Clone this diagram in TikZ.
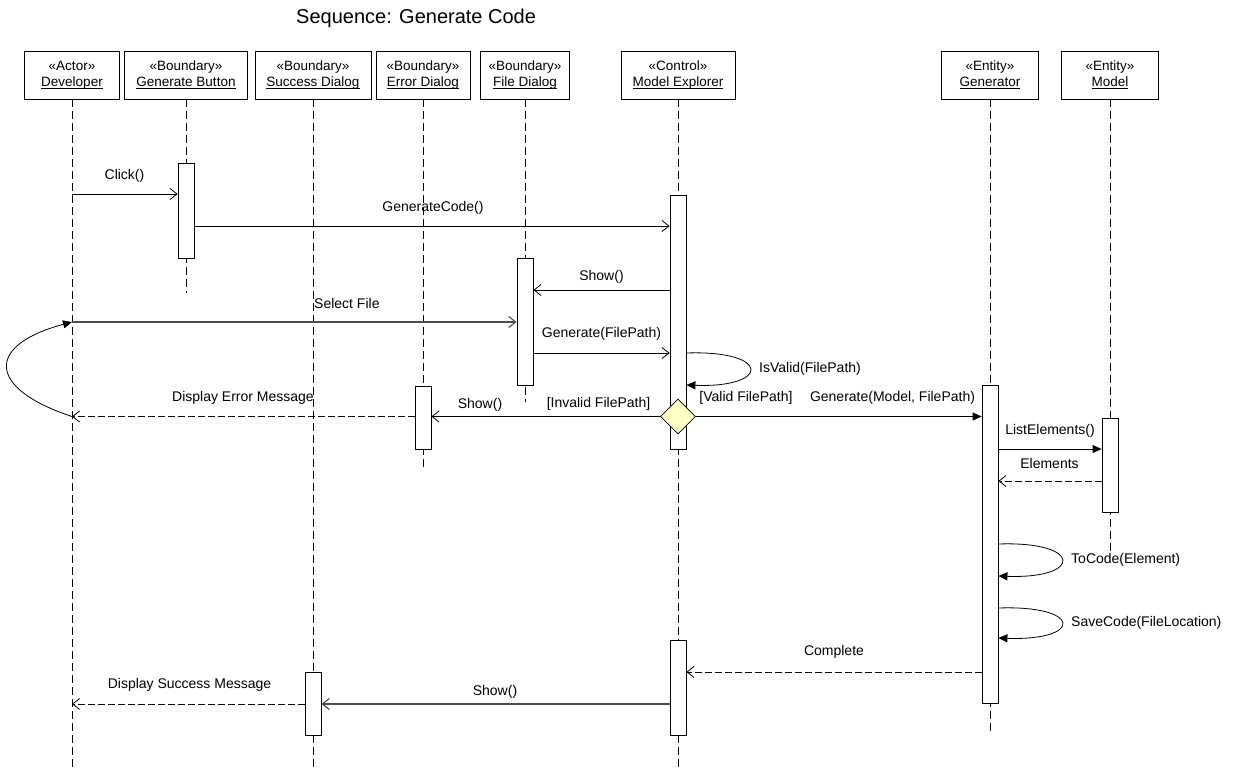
\documentclass[tikz,border=0pt]{standalone}
\usepackage{fontspec}
\setmainfont{Liberation Sans}
\usetikzlibrary{arrows.meta,shapes.geometric}

% underlined object name with the rule close to the baseline
\newcommand{\objname}[1]{\underline{\smash{#1}}}

\definecolor{decisionfill}{RGB}{255,255,196}

\begin{document}
\begin{tikzpicture}[x=1pt,y=-1pt,
  hdr/.style={draw, line width=0.8pt, fill=white, inner sep=0pt, align=center,
              minimum height=48pt, font=\fontsize{13.5}{16}\selectfont},
  life/.style={line width=0.8pt, dash pattern=on 8pt off 4pt},
  act/.style={draw, fill=white, line width=0.8pt, minimum width=16pt, inner sep=0pt},
  call/.style={line width=0.8pt, -{Straight Barb[length=7pt,width=11pt]}},
  softcall/.style={call, line width=1.1pt, black!70},
  ret/.style={call, dash pattern=on 7pt off 3pt},
  sync/.style={line width=0.8pt, -{Triangle[length=9pt,width=8pt]}},
  lbl/.style={font=\fontsize{14}{16}\selectfont, inner sep=0pt},
  decision/.style={diamond, draw, line width=0.8pt, fill=decisionfill, inner sep=0pt,
                   minimum width=35pt, minimum height=35pt},
]
\useasboundingbox (0,0) rectangle (1234,769);

% title
\node[anchor=base west, inner sep=0pt, font=\fontsize{20}{22}\selectfont] (title) at (296,23) {Sequence: Generate Code};

% object headers
\node[hdr, minimum width=95pt]  (dev) at (72,75)   {«Actor»\\\objname{Developer}};
\node[hdr, minimum width=123pt] (gb)  at (186,75)  {«Boundary»\\\objname{Generate Button}};
\node[hdr, minimum width=116pt] (sd)  at (313,75)  {«Boundary»\\\objname{Success Dialog}};
\node[hdr, minimum width=94pt]  (ed)  at (423,75)  {«Boundary»\\\objname{Error Dialog}};
\node[hdr, minimum width=89pt]  (fd)  at (525,75)  {«Boundary»\\\objname{File Dialog}};
\node[hdr, minimum width=114pt] (me)  at (678,75)  {«Control»\\\objname{Model Explorer}};
\node[hdr, minimum width=97pt]  (gen) at (990,75)  {«Entity»\\\objname{Generator}};
\node[hdr, minimum width=97pt]  (md)  at (1110,75) {«Entity»\\\objname{Model}};

% lifeline ends
\coordinate (devEnd) at (72,769);
\coordinate (gbEnd)  at (186,293);
\coordinate (sdEnd)  at (313,769);
\coordinate (edEnd)  at (423,467);
\coordinate (fdEnd)  at (525,402);
\coordinate (meEnd)  at (678,769);
\coordinate (genEnd) at (990,732);
\coordinate (mdEnd)  at (1110,552);

% lifelines
\draw[life] (dev) -- (devEnd);
\draw[life] (gb)  -- (gbEnd);
\draw[life] (sd)  -- (sdEnd);
\draw[life] (ed)  -- (edEnd);
\draw[life] (fd)  -- (fdEnd);
\draw[life] (me)  -- (meEnd);
\draw[life] (gen) -- (genEnd);
\draw[life] (md)  -- (mdEnd);

% activation bars
\node[act, minimum height=95pt]  (gbA)  at (186,210.5) {};
\node[act, minimum height=254pt] (meA)  at (678,322)   {};
\node[act, minimum height=127pt] (fdA)  at (525,321.5) {};
\node[act, minimum height=63pt]  (edA)  at (423,417.5) {};
\node[act, minimum height=318pt] (genA) at (990,544)   {};
\node[act, minimum height=94pt]  (mdA)  at (1110,465)  {};
\node[act, minimum height=95pt]  (meB)  at (678,687.5) {};
\node[act, minimum height=63pt]  (sdA)  at (313,703.5) {};

% decision on the model explorer
\node[decision] (dec) at (678,416.5) {};

% message levels
\coordinate (yClick)  at (0,194);
\coordinate (yGen)    at (0,226);
\coordinate (yShow)   at (0,290);
\coordinate (ySel)    at (0,322);
\coordinate (yGenFP)  at (0,353);
\coordinate (yValA)   at (0,353);
\coordinate (yValB)   at (0,385);
\coordinate (yDec)    at (0,416.5);
\coordinate (yList)   at (0,449);
\coordinate (yElem)   at (0,481);
\coordinate (yCodeA)  at (0,544);
\coordinate (yCodeB)  at (0,576);
\coordinate (ySaveA)  at (0,608);
\coordinate (ySaveB)  at (0,638);
\coordinate (yDone)   at (0,672);
\coordinate (yShowOk) at (0,704);

% messages
\draw[call] (dev |- yClick) -- (gbA.west |- yClick);
\node[lbl] at (124.5,176) {Click()};

\draw[call] (gbA.east |- yGen) -- (meA.west |- yGen);
\node[lbl] at (433,208) {GenerateCode()};

\draw[call] (meA.west |- yShow) -- (fdA.east |- yShow);
\node[lbl] at (601.5,277) {Show()};

\draw[softcall] (dev |- ySel) -- (fdA.west |- ySel);
\node[lbl, anchor=west] at (314,303) {Select File};

\draw[call] (fdA.east |- yGenFP) -- (meA.west |- yGenFP);
\node[lbl] at (601.5,334) {Generate(FilePath)};

\draw[sync] (meA.east |- yValA) .. controls (771,350) and (771,388) .. (meA.east |- yValB);
\node[lbl, anchor=west] at (759,369) {IsValid(FilePath)};

\draw[call] (dec.west) -- (edA.east |- yDec);
\node[lbl] at (480,405) {Show()};
\node[lbl] at (598.5,404) {[Invalid FilePath]};

\draw[ret] (edA.west |- yDec) -- (dev |- yDec);
\node[lbl] at (243,398) {Display Error Message};

\draw[sync] (dev |- yDec) .. controls (-14,388) and (-14,345) .. (dev |- ySel);

\draw[sync] (dec.east) -- (genA.west |- yDec);
\node[lbl] at (746,398) {[Valid FilePath]};
\node[lbl] at (892.5,398) {Generate(Model, FilePath)};

\draw[sync] (genA.east |- yList) -- (mdA.west |- yList);
\node[lbl] at (1050,431) {ListElements()};

\draw[ret] (mdA.west |- yElem) -- (genA.east |- yElem);
\node[lbl] at (1049.5,463) {Elements};

\draw[sync] (genA.east |- yCodeA) .. controls (1083,541) and (1083,579) .. (genA.east |- yCodeB);
\node[lbl, anchor=west] at (1071,560) {ToCode(Element)};

\draw[sync] (genA.east |- ySaveA) .. controls (1083,605) and (1083,641) .. (genA.east |- ySaveB);
\node[lbl, anchor=west] at (1071,623) {SaveCode(FileLocation)};

\draw[ret] (genA.west |- yDone) -- (meB.east |- yDone);
\node[lbl] at (834,652) {Complete};

\draw[softcall] (meB.west |- yShowOk) -- (sdA.east |- yShowOk);
\node[lbl] at (495,692) {Show()};

\draw[ret] (sdA.west |- yShowOk) -- (dev |- yShowOk);
\node[lbl] at (189.5,685) {Display Success Message};
\end{tikzpicture}
\end{document}
